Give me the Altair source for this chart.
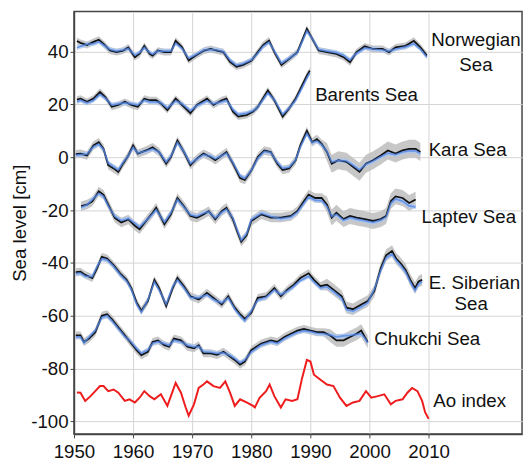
import altair as alt
import pandas as pd

# ---------------- data ----------------
nor_years = [1950.5, 1951.1, 1952.2, 1953.3, 1954.2, 1955.0, 1956.1, 1957.2, 1958.3, 1959.2,
             1960.3, 1961.1, 1961.9, 1962.8, 1963.3, 1964.2, 1965.3, 1966.4, 1967.2, 1968.3,
             1969.4, 1970.6, 1972.0, 1973.1, 1974.2, 1975.3, 1976.4, 1977.5, 1978.6, 1980.0,
             1981.1, 1982.0, 1983.0, 1983.9, 1985.1, 1986.1, 1987.8, 1989.4, 1990.3, 1991.4,
             1992.8, 1994.4, 1995.6, 1996.7, 1997.8, 1999.2, 2000.6, 2002.2, 2003.3, 2004.4,
             2006.1, 2007.5, 2008.6, 2009.7]
nor_obs = [44.0, 43.3, 42.5, 43.7, 44.5, 42.9, 40.4, 39.8, 40.4, 41.6,
           37.9, 39.2, 42.2, 39.2, 38.5, 40.4, 39.8, 39.8, 44.1, 41.6,
           36.7, 38.5, 40.4, 41.0, 40.4, 39.8, 36.1, 34.3, 35.0, 36.5,
           39.8, 42.5, 44.2, 39.8, 35.0, 36.7, 39.8, 48.6, 44.9, 40.4,
           39.8, 39.1, 37.9, 36.0, 39.8, 42.0, 41.0, 41.0, 39.8, 41.6,
           42.2, 44.1, 41.6, 38.5]
nor_rec = [41.5, 42.0, 42.8, 43.0, 43.8, 42.5, 40.8, 40.2, 40.6, 41.2,
           38.6, 39.6, 41.6, 39.6, 39.0, 40.2, 40.2, 40.2, 43.2, 41.2,
           37.4, 38.8, 40.6, 40.8, 40.6, 40.0, 36.8, 34.8, 35.4, 36.8,
           39.4, 42.0, 43.6, 40.2, 35.6, 37.0, 39.6, 47.8, 45.0, 40.8,
           40.2, 39.6, 38.6, 36.8, 39.4, 41.4, 41.0, 40.6, 40.2, 41.0,
           41.8, 43.0, 41.0, 38.0]

bar_years = [1950.5, 1951.1, 1952.2, 1953.3, 1954.4, 1955.3, 1956.4, 1957.5, 1958.6, 1959.7,
             1960.8, 1961.9, 1962.8, 1963.9, 1964.7, 1965.8, 1967.2, 1968.3, 1969.7, 1970.8,
             1972.5, 1973.6, 1975.0, 1975.8, 1976.9, 1977.8, 1979.2, 1980.3, 1981.1, 1982.8,
             1983.9, 1985.3, 1986.4, 1987.5, 1988.6, 1989.4, 1989.9]
bar_obs = [21.8, 22.2, 21.0, 22.2, 24.7, 22.8, 19.1, 19.8, 21.0, 19.8,
           19.1, 22.2, 21.6, 21.6, 20.4, 17.9, 22.2, 19.8, 16.7, 19.8,
           22.2, 19.8, 21.6, 22.2, 17.3, 15.4, 16.0, 17.3, 19.1, 25.3,
           21.6, 15.4, 18.5, 22.2, 27.2, 30.9, 32.8]
bar_rec = [21.0, 21.6, 20.6, 21.6, 23.8, 22.4, 19.8, 20.2, 20.6, 20.2,
           19.8, 21.6, 21.0, 21.0, 20.6, 18.6, 21.4, 20.2, 17.6, 19.6,
           21.4, 20.2, 21.0, 21.6, 18.0, 16.2, 16.6, 17.6, 19.0, 24.4,
           21.8, 16.2, 18.6, 21.6, 26.4, 30.0, 32.0]

kar_years = [1950.3, 1951.1, 1952.2, 1953.3, 1954.2, 1955.0, 1955.8, 1956.7, 1957.5, 1958.3,
             1959.2, 1960.0, 1960.8, 1962.2, 1963.3, 1964.4, 1965.6, 1966.4, 1967.5, 1968.6,
             1969.7, 1970.8, 1971.9, 1973.1, 1973.9, 1975.0, 1975.8, 1976.9, 1978.1, 1978.9,
             1980.0, 1981.1, 1982.2, 1983.3, 1984.4, 1985.3, 1986.4, 1987.5, 1988.3, 1989.4,
             1990.3, 1991.1, 1991.9, 1992.8, 1993.6, 1994.7, 1996.1, 1997.2, 1998.3, 1999.4,
             2000.6, 2001.9, 2003.1, 2004.4, 2005.6, 2006.7, 2007.8, 2008.6]
kar_obs = [1.2, 1.4, 0.7, 4.5, 5.7, 3.2, -3.0, -4.2, -5.5, -2.4,
           0.7, 4.5, 1.4, 2.6, 3.8, 2.0, -2.4, 0.1, 6.3, 2.0,
           -3.0, -0.5, 1.4, 0.1, -1.1, 0.7, 2.0, -2.4, -7.9, -8.6,
           -5.0, 0.1, 2.6, 2.0, -2.4, -4.8, -4.2, -1.1, 4.5, 10.0,
           5.7, 6.9, 5.1, 2.0, -2.4, -1.1, -1.7, -3.6, -5.5, -2.4,
           -1.1, 0.7, 2.6, 1.4, 2.6, 3.2, 3.2, 2.0]
kar_rec = [0.8, 1.0, 1.2, 4.0, 5.0, 3.0, -2.2, -3.6, -4.8, -2.0,
           0.6, 3.8, 1.6, 2.4, 3.2, 2.0, -1.8, 0.4, 5.6, 2.2,
           -2.4, -0.6, 1.0, 0.4, -0.6, 0.6, 1.6, -2.0, -7.0, -8.0,
           -5.0, -0.4, 2.2, 1.8, -2.0, -4.2, -3.8, -1.0, 4.0, 9.0,
           5.6, 6.2, 4.8, 2.2, -1.8, -1.2, -1.4, -3.0, -4.8, -2.6,
           -1.4, 0.2, 1.6, 1.0, 2.0, 2.4, 2.4, 1.4]

lap_years = [1951.2, 1952.2, 1953.1, 1954.2, 1955.0, 1955.8, 1956.9, 1958.0, 1959.2, 1960.3,
             1961.1, 1962.2, 1963.3, 1963.9, 1965.3, 1966.4, 1967.5, 1968.6, 1969.7, 1970.8,
             1971.9, 1972.8, 1973.9, 1975.0, 1975.8, 1976.9, 1977.6, 1978.3, 1979.2, 1980.0,
             1981.7, 1983.3, 1985.0, 1986.7, 1987.8, 1988.9, 1989.7, 1990.8, 1991.9, 1992.8,
             1993.6, 1994.4, 1995.6, 1996.7, 1997.8, 1999.2, 2000.6, 2001.9, 2002.8, 2003.6,
             2004.4, 2005.6, 2006.7, 2007.8]
lap_obs = [-18.5, -17.9, -16.7, -12.9, -14.2, -17.9, -22.9, -24.7, -23.5, -25.9,
           -27.2, -24.1, -21.0, -19.1, -25.3, -21.6, -15.4, -18.5, -22.2, -22.9,
           -21.6, -20.4, -23.5, -20.4, -19.1, -23.5, -28.0, -32.0, -29.5, -24.1,
           -21.6, -22.8, -22.8, -22.2, -20.3, -16.6, -14.1, -15.4, -15.4, -17.9,
           -22.8, -21.0, -23.4, -22.2, -22.8, -23.4, -24.1, -23.4, -22.2, -16.6,
           -14.8, -15.4, -17.3, -16.0]
lap_rec = [-19.0, -18.0, -16.0, -13.6, -14.8, -18.4, -22.4, -24.0, -23.2, -25.0,
           -26.4, -24.0, -21.4, -19.8, -24.6, -21.0, -16.0, -18.8, -21.8, -22.4,
           -21.2, -20.6, -23.0, -20.8, -19.6, -23.0, -27.4, -31.4, -29.0, -23.6,
           -21.2, -22.4, -23.2, -22.6, -20.8, -17.4, -15.0, -16.2, -16.4, -18.6,
           -22.4, -21.6, -23.8, -22.8, -23.4, -24.0, -24.6, -23.8, -22.6, -17.4,
           -15.8, -16.6, -18.4, -18.8]

esi_years = [1950.3, 1951.1, 1951.9, 1953.1, 1953.9, 1954.7, 1955.6, 1956.7, 1957.8, 1958.9,
             1959.7, 1960.6, 1961.4, 1962.5, 1963.6, 1964.4, 1965.6, 1966.7, 1967.5, 1968.6,
             1969.7, 1971.1, 1972.5, 1973.6, 1975.0, 1976.1, 1977.2, 1978.1, 1978.9, 1980.0,
             1981.1, 1982.5, 1983.9, 1985.0, 1986.1, 1987.2, 1988.3, 1989.7, 1990.6, 1991.7,
             1992.8, 1993.9, 1995.3, 1996.1, 1997.2, 1998.6, 1999.7, 2000.8, 2001.9, 2002.8,
             2003.8, 2004.5, 2005.3, 2006.1, 2006.9, 2007.7, 2008.3, 2008.9]
esi_obs = [-43.5, -43.3, -44.5, -45.7, -42.0, -37.7, -38.3, -40.8, -43.9, -46.4,
           -49.5, -55.0, -58.1, -54.4, -46.4, -49.5, -56.3, -49.5, -45.7, -48.8,
           -52.6, -53.8, -51.3, -53.2, -55.7, -52.6, -56.9, -59.4, -61.2, -58.8,
           -53.2, -52.6, -49.5, -52.6, -50.1, -48.2, -45.7, -43.9, -46.4, -48.8,
           -48.2, -50.1, -52.6, -56.9, -57.5, -55.7, -54.4, -50.7, -42.0, -37.1,
           -35.5, -38.3, -40.2, -42.6, -46.4, -49.5, -47.0, -46.4]
esi_rec = [-44.0, -43.8, -45.0, -45.2, -41.4, -38.4, -38.8, -41.2, -44.4, -46.8,
           -50.0, -55.6, -58.6, -54.0, -47.2, -50.2, -55.6, -49.0, -46.4, -49.4,
           -53.0, -53.2, -52.0, -53.8, -55.2, -53.2, -57.4, -60.0, -61.8, -58.2,
           -54.0, -53.0, -50.2, -52.0, -50.6, -48.8, -46.6, -45.0, -47.2, -49.4,
           -49.0, -50.8, -53.4, -57.6, -58.2, -56.6, -55.0, -50.0, -42.8, -38.0,
           -36.6, -39.0, -41.0, -43.4, -47.2, -50.4, -48.0, -47.0]

chu_years = [1950.3, 1951.1, 1951.7, 1952.5, 1953.6, 1954.7, 1955.6, 1956.4, 1957.5, 1958.6,
             1959.7, 1960.6, 1961.4, 1962.5, 1963.3, 1964.2, 1965.3, 1966.1, 1966.9, 1968.1,
             1969.2, 1970.3, 1971.1, 1971.9, 1973.1, 1974.2, 1975.3, 1976.4, 1977.2, 1978.1,
             1978.9, 1980.0, 1981.7, 1983.3, 1984.4, 1985.6, 1986.7, 1987.8, 1988.9, 1990.0,
             1991.1, 1992.2, 1993.3, 1994.4, 1995.6, 1996.7, 1997.8, 1998.6, 1999.2, 1999.7]
chu_obs = [-67.4, -67.4, -69.9, -68.7, -66.2, -60.0, -59.4, -61.2, -64.3, -67.4,
           -70.5, -73.0, -74.9, -73.6, -69.9, -69.3, -71.1, -71.7, -68.6, -69.3,
           -71.7, -72.3, -71.1, -74.2, -74.2, -74.8, -73.6, -75.4, -76.7, -78.5,
           -77.3, -73.0, -70.5, -69.3, -69.9, -68.0, -66.8, -65.6, -65.0, -65.6,
           -66.2, -66.2, -67.4, -69.3, -69.3, -68.0, -66.8, -65.6, -68.0, -69.9]
chu_rec = [-68.0, -68.0, -70.2, -68.2, -65.6, -60.6, -60.0, -61.8, -64.8, -67.8,
           -70.0, -72.4, -74.2, -73.0, -70.4, -69.8, -70.6, -71.2, -69.2, -69.8,
           -71.2, -71.8, -71.6, -73.6, -73.8, -74.2, -74.0, -75.0, -76.2, -77.8,
           -76.8, -73.6, -71.0, -69.8, -70.4, -68.6, -67.4, -66.2, -65.6, -66.0,
           -66.6, -66.8, -67.2, -68.0, -67.6, -67.4, -67.0, -66.8, -68.4, -70.2]

ao_years = [1950.5, 1951.1, 1951.9, 1952.8, 1953.6, 1954.4, 1955.0, 1955.8, 1956.7, 1957.5,
            1958.6, 1959.4, 1960.3, 1961.1, 1961.9, 1962.8, 1963.6, 1964.7, 1965.8, 1966.7,
            1967.2, 1968.1, 1968.9, 1969.4, 1970.3, 1971.1, 1971.9, 1972.5, 1973.6, 1974.7,
            1975.6, 1976.4, 1977.2, 1978.1, 1979.2, 1980.3, 1980.6, 1981.4, 1982.5, 1983.1,
            1983.9, 1985.0, 1985.8, 1986.9, 1987.8, 1988.6, 1989.4, 1990.0, 1990.6, 1991.7,
            1992.8, 1993.9, 1995.0, 1996.1, 1997.2, 1998.3, 1999.4, 2000.3, 2001.4, 2002.5,
            2003.6, 2004.4, 2005.6, 2006.4, 2007.2, 2008.1, 2008.9, 2009.4, 2010.0]
ao_vals = [-89.0, -89.1, -92.2, -90.4, -88.5, -86.6, -86.6, -88.5, -87.9, -89.1,
           -92.2, -91.6, -92.8, -91.0, -88.5, -90.4, -91.6, -89.7, -94.1, -88.5,
           -85.4, -89.1, -94.7, -97.8, -93.5, -87.3, -86.0, -84.8, -86.6, -87.3,
           -84.8, -89.1, -94.1, -91.6, -92.8, -94.1, -94.7, -91.0, -88.5, -86.0,
           -90.4, -94.7, -91.6, -92.2, -91.6, -83.5, -76.7, -77.3, -82.3, -84.2,
           -86.0, -86.6, -91.0, -94.1, -92.8, -92.2, -88.5, -91.0, -90.4, -89.7,
           -93.5, -92.2, -91.6, -89.1, -87.3, -88.5, -92.2, -96.5, -99.0]

# uncertainty half-widths (early, late) of the grey band, split at a year
gray_err = {"Norwegian": (1.3, 1.3), "Barents": (1.3, 1.3), "Kara": (1.6, 3.4),
            "Laptev": (1.8, 3.0), "ESib": (1.5, 2.2), "Chukchi": (1.5, 2.4)}
err_split_year = 1992.5
blue_err = 0.9

# labels
lab_left_text = ["Barents Sea", "Kara Sea", "Laptev Sea", "E. Siberian", "Chukchi Sea", "Ao index"]
lab_left_x = [1990.8, 2010.0, 2008.8, 2010.0, 2000.8, 2010.8]
lab_left_y = [23.5, 2.7, -22.6, -47.6, -68.7, -92.1]
lab_center_text = ["Norwegian", "Sea", "Sea"]
lab_center_x = [2018.0, 2018.0, 2017.2]
lab_center_y = [44.3, 34.8, -55.4]

x_ticks = [1950, 1960, 1970, 1980, 1990, 2000, 2010]
y_ticks = [-100, -80, -60, -40, -20, 0, 20, 40]

# ---------------- build tables ----------------
series = [("Norwegian", nor_years, nor_obs, nor_rec),
          ("Barents", bar_years, bar_obs, bar_rec),
          ("Kara", kar_years, kar_obs, kar_rec),
          ("Laptev", lap_years, lap_obs, lap_rec),
          ("ESib", esi_years, esi_obs, esi_rec),
          ("Chukchi", chu_years, chu_obs, chu_rec)]
rows = []
for name, yrs, obs, rec in series:
    e1, e2 = gray_err[name]
    for yv, o, r in zip(yrs, obs, rec):
        e = e1 if yv < err_split_year else e2
        rows.append(dict(series=name, year=yv, obs=o, rec=r,
                         obs_lo=o - e, obs_hi=o + e,
                         rec_lo=r - blue_err, rec_hi=r + blue_err))
df = pd.DataFrame(rows)
ao_df = pd.DataFrame({"year": ao_years, "value": ao_vals})
labl = pd.DataFrame({"text": lab_left_text, "year": lab_left_x, "value": lab_left_y})
labc = pd.DataFrame({"text": lab_center_text, "year": lab_center_x, "value": lab_center_y})

FONT = "Liberation Sans"
xs = alt.Scale(domain=[1950, 2025.8], nice=False, zero=False)
ys = alt.Scale(domain=[-104.7, 55.2], nice=False, zero=False)

xax = alt.Axis(values=x_ticks, format="d", title=None, labelFontSize=19, labelFont=FONT,
               labelColor="#111", labelOverlap=False, labelFlush=False, grid=True,
               gridColor="#d4d4d4", domainColor="#444", domainWidth=1.5, tickColor="#444",
               tickSize=4, labelPadding=5)
yax = alt.Axis(values=y_ticks, labelExpr="'' + datum.value", title="Sea level [cm]",
               titleFontSize=19, titleFont=FONT, titleFontWeight="normal", titleColor="#111",
               labelFontSize=19, labelFont=FONT, labelColor="#111", labelOverlap=False,
               labelFlush=False, grid=True, gridColor="#d4d4d4", domainColor="#444",
               domainWidth=1.5, tickColor="#444", tickSize=4, labelPadding=2, titlePadding=1)

base = alt.Chart(df)
gray_band = base.mark_area(color="#bdbdbd", opacity=0.85).encode(
    x=alt.X("year:Q", scale=xs, axis=xax),
    y=alt.Y("obs_lo:Q", scale=ys, axis=yax),
    y2="obs_hi:Q",
    detail="series:N")
blue_band = base.mark_area(color="#a9c5f2", opacity=0.75).encode(
    x="year:Q", y="rec_lo:Q", y2="rec_hi:Q", detail="series:N")
black_line = base.mark_line(color="#111111", strokeWidth=1.8).encode(
    x="year:Q", y="obs:Q", detail="series:N")
blue_line = base.mark_line(color="#5487e6", strokeWidth=1.7, opacity=0.8).encode(
    x="year:Q", y="rec:Q", detail="series:N")
ao_line = alt.Chart(ao_df).mark_line(color="#ee1c1c", strokeWidth=2).encode(
    x="year:Q", y="value:Q")
text_l = alt.Chart(labl).mark_text(align="left", baseline="middle", fontSize=19,
                                   font=FONT, color="#111").encode(
    x="year:Q", y="value:Q", text="text:N")
text_c = alt.Chart(labc).mark_text(align="center", baseline="middle", fontSize=19,
                                   font=FONT, color="#111").encode(
    x="year:Q", y="value:Q", text="text:N")

chart = alt.layer(gray_band, blue_band, black_line, blue_line, ao_line, text_l, text_c).properties(
    width=455, height=429,
    autosize=alt.AutoSizeParams(type="none"),
    padding={"left": 67, "top": 0, "right": 2, "bottom": 25},
    background="white",
).configure_view(stroke="#444", strokeWidth=1.5)

chart.save("out.html", embed_options={"renderer": "svg", "actions": False})
